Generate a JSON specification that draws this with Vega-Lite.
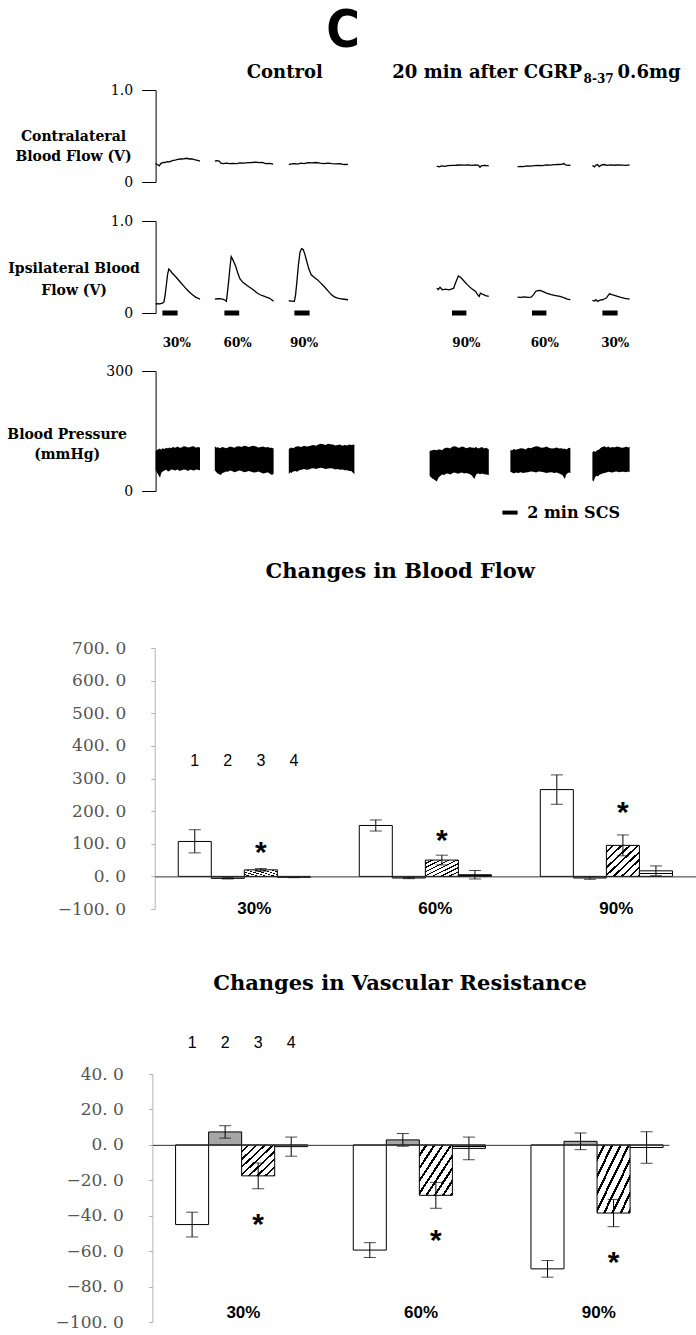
{
  "$schema": "https://vega.github.io/schema/vega-lite/v6.json",
  "padding": 0,
  "spacing": 0,
  "bounds": "flush",
  "config": {"view": {"stroke": null}, "axis": {"grid": false, "labelOverlap": false}},
  "datasets": {
    "contra": [
      {"seg":1,"t":19.45,"v":0.2},{"seg":1,"t":19.7,"v":0.19},{"seg":1,"t":19.9,"v":0.175},{"seg":1,"t":20.1,"v":0.2},{"seg":1,"t":20.3,"v":0.21},{"seg":1,"t":20.6,"v":0.212},{"seg":1,"t":20.9,"v":0.222},{"seg":1,"t":21.2,"v":0.218},{"seg":1,"t":21.6,"v":0.235},{"seg":1,"t":21.9,"v":0.238},{"seg":1,"t":22.2,"v":0.245},{"seg":1,"t":22.6,"v":0.25},{"seg":1,"t":23.0,"v":0.252},{"seg":1,"t":23.3,"v":0.258},{"seg":1,"t":23.7,"v":0.25},{"seg":1,"t":24.0,"v":0.252},{"seg":1,"t":24.3,"v":0.243},{"seg":1,"t":24.7,"v":0.236},{"seg":1,"t":25.0,"v":0.228},
      {"seg":2,"t":26.85,"v":0.228},{"seg":2,"t":27.1,"v":0.232},{"seg":2,"t":27.4,"v":0.226},{"seg":2,"t":27.6,"v":0.205},{"seg":2,"t":27.9,"v":0.2},{"seg":2,"t":28.3,"v":0.205},{"seg":2,"t":28.7,"v":0.2},{"seg":2,"t":29.1,"v":0.203},{"seg":2,"t":29.6,"v":0.2},{"seg":2,"t":30.0,"v":0.207},{"seg":2,"t":30.5,"v":0.205},{"seg":2,"t":31.0,"v":0.21},{"seg":2,"t":31.5,"v":0.212},{"seg":2,"t":32.0,"v":0.217},{"seg":2,"t":32.4,"v":0.21},{"seg":2,"t":32.8,"v":0.213},{"seg":2,"t":33.2,"v":0.2},{"seg":2,"t":33.7,"v":0.203},{"seg":2,"t":34.15,"v":0.195},
      {"seg":3,"t":36.1,"v":0.19},{"seg":3,"t":36.4,"v":0.196},{"seg":3,"t":36.8,"v":0.2},{"seg":3,"t":37.2,"v":0.195},{"seg":3,"t":37.6,"v":0.205},{"seg":3,"t":38.0,"v":0.2},{"seg":3,"t":38.5,"v":0.21},{"seg":3,"t":39.0,"v":0.207},{"seg":3,"t":39.5,"v":0.212},{"seg":3,"t":40.0,"v":0.205},{"seg":3,"t":40.5,"v":0.2},{"seg":3,"t":41.0,"v":0.205},{"seg":3,"t":41.5,"v":0.2},{"seg":3,"t":42.0,"v":0.197},{"seg":3,"t":42.5,"v":0.2},{"seg":3,"t":43.0,"v":0.19},{"seg":3,"t":43.5,"v":0.192},
      {"seg":4,"t":54.6,"v":0.172},{"seg":4,"t":54.9,"v":0.165},{"seg":4,"t":55.2,"v":0.175},{"seg":4,"t":55.6,"v":0.17},{"seg":4,"t":56.0,"v":0.178},{"seg":4,"t":56.5,"v":0.18},{"seg":4,"t":57.0,"v":0.182},{"seg":4,"t":57.5,"v":0.185},{"seg":4,"t":58.0,"v":0.184},{"seg":4,"t":58.5,"v":0.186},{"seg":4,"t":59.0,"v":0.18},{"seg":4,"t":59.5,"v":0.185},{"seg":4,"t":59.8,"v":0.18},{"seg":4,"t":60.0,"v":0.16},{"seg":4,"t":60.2,"v":0.178},{"seg":4,"t":60.6,"v":0.18},{"seg":4,"t":61.1,"v":0.175},
      {"seg":5,"t":64.7,"v":0.165},{"seg":5,"t":65.0,"v":0.17},{"seg":5,"t":65.4,"v":0.168},{"seg":5,"t":65.9,"v":0.175},{"seg":5,"t":66.3,"v":0.172},{"seg":5,"t":66.8,"v":0.177},{"seg":5,"t":67.3,"v":0.18},{"seg":5,"t":67.8,"v":0.178},{"seg":5,"t":68.3,"v":0.185},{"seg":5,"t":68.8,"v":0.183},{"seg":5,"t":69.3,"v":0.188},{"seg":5,"t":69.8,"v":0.19},{"seg":5,"t":70.2,"v":0.192},{"seg":5,"t":70.5,"v":0.2},{"seg":5,"t":70.7,"v":0.185},{"seg":5,"t":71.0,"v":0.18},{"seg":5,"t":71.3,"v":0.182},
      {"seg":6,"t":74.05,"v":0.18},{"seg":6,"t":74.3,"v":0.165},{"seg":6,"t":74.5,"v":0.185},{"seg":6,"t":74.7,"v":0.19},{"seg":6,"t":74.9,"v":0.168},{"seg":6,"t":75.2,"v":0.185},{"seg":6,"t":75.5,"v":0.19},{"seg":6,"t":75.9,"v":0.18},{"seg":6,"t":76.3,"v":0.186},{"seg":6,"t":76.8,"v":0.182},{"seg":6,"t":77.3,"v":0.186},{"seg":6,"t":77.8,"v":0.183},{"seg":6,"t":78.3,"v":0.18},{"seg":6,"t":78.7,"v":0.185}
    ],
    "ipsi": [
      {"seg":1,"t":19.45,"v":0.1},{"seg":1,"t":19.7,"v":0.102},{"seg":1,"t":20.0,"v":0.1},{"seg":1,"t":20.3,"v":0.108},{"seg":1,"t":20.5,"v":0.12},{"seg":1,"t":20.65,"v":0.2},{"seg":1,"t":20.8,"v":0.31},{"seg":1,"t":20.95,"v":0.42},{"seg":1,"t":21.1,"v":0.478},{"seg":1,"t":21.3,"v":0.46},{"seg":1,"t":21.5,"v":0.435},{"seg":1,"t":21.8,"v":0.41},{"seg":1,"t":22.1,"v":0.38},{"seg":1,"t":22.5,"v":0.34},{"seg":1,"t":22.9,"v":0.3},{"seg":1,"t":23.3,"v":0.26},{"seg":1,"t":23.7,"v":0.225},{"seg":1,"t":24.1,"v":0.195},{"seg":1,"t":24.5,"v":0.17},{"seg":1,"t":24.8,"v":0.158},{"seg":1,"t":25.0,"v":0.152},
      {"seg":2,"t":26.85,"v":0.15},{"seg":2,"t":27.2,"v":0.155},{"seg":2,"t":27.5,"v":0.157},{"seg":2,"t":27.8,"v":0.15},{"seg":2,"t":28.05,"v":0.144},{"seg":2,"t":28.3,"v":0.128},{"seg":2,"t":28.45,"v":0.24},{"seg":2,"t":28.6,"v":0.36},{"seg":2,"t":28.75,"v":0.5},{"seg":2,"t":28.9,"v":0.612},{"seg":2,"t":29.1,"v":0.58},{"seg":2,"t":29.45,"v":0.51},{"seg":2,"t":29.7,"v":0.44},{"seg":2,"t":30.0,"v":0.37},{"seg":2,"t":30.4,"v":0.33},{"seg":2,"t":30.8,"v":0.305},{"seg":2,"t":31.2,"v":0.28},{"seg":2,"t":31.7,"v":0.25},{"seg":2,"t":32.1,"v":0.22},{"seg":2,"t":32.5,"v":0.198},{"seg":2,"t":32.9,"v":0.185},{"seg":2,"t":33.3,"v":0.172},{"seg":2,"t":33.7,"v":0.16},{"seg":2,"t":34.2,"v":0.128},
      {"seg":3,"t":36.1,"v":0.133},{"seg":3,"t":36.4,"v":0.13},{"seg":3,"t":36.8,"v":0.128},{"seg":3,"t":36.95,"v":0.2},{"seg":3,"t":37.1,"v":0.33},{"seg":3,"t":37.3,"v":0.52},{"seg":3,"t":37.5,"v":0.66},{"seg":3,"t":37.7,"v":0.7},{"seg":3,"t":37.9,"v":0.69},{"seg":3,"t":38.1,"v":0.64},{"seg":3,"t":38.3,"v":0.576},{"seg":3,"t":38.6,"v":0.48},{"seg":3,"t":38.9,"v":0.415},{"seg":3,"t":39.3,"v":0.385},{"seg":3,"t":39.7,"v":0.36},{"seg":3,"t":40.1,"v":0.325},{"seg":3,"t":40.55,"v":0.285},{"seg":3,"t":41.0,"v":0.24},{"seg":3,"t":41.4,"v":0.2},{"seg":3,"t":41.8,"v":0.175},{"seg":3,"t":42.2,"v":0.162},{"seg":3,"t":42.8,"v":0.152},{"seg":3,"t":43.5,"v":0.144},
      {"seg":4,"t":54.6,"v":0.27},{"seg":4,"t":54.8,"v":0.255},{"seg":4,"t":55.0,"v":0.28},{"seg":4,"t":55.3,"v":0.252},{"seg":4,"t":55.7,"v":0.26},{"seg":4,"t":56.1,"v":0.252},{"seg":4,"t":56.4,"v":0.26},{"seg":4,"t":56.7,"v":0.27},{"seg":4,"t":57.0,"v":0.34},{"seg":4,"t":57.3,"v":0.403},{"seg":4,"t":57.6,"v":0.385},{"seg":4,"t":58.05,"v":0.342},{"seg":4,"t":58.5,"v":0.3},{"seg":4,"t":58.9,"v":0.27},{"seg":4,"t":59.2,"v":0.25},{"seg":4,"t":59.45,"v":0.234},{"seg":4,"t":59.7,"v":0.2},{"seg":4,"t":59.9,"v":0.18},{"seg":4,"t":60.05,"v":0.215},{"seg":4,"t":60.3,"v":0.205},{"seg":4,"t":60.7,"v":0.19},{"seg":4,"t":61.1,"v":0.18},
      {"seg":5,"t":64.7,"v":0.173},{"seg":5,"t":65.1,"v":0.17},{"seg":5,"t":65.55,"v":0.175},{"seg":5,"t":66.0,"v":0.17},{"seg":5,"t":66.4,"v":0.173},{"seg":5,"t":66.7,"v":0.2},{"seg":5,"t":66.95,"v":0.234},{"seg":5,"t":67.2,"v":0.242},{"seg":5,"t":67.5,"v":0.245},{"seg":5,"t":67.9,"v":0.232},{"seg":5,"t":68.3,"v":0.216},{"seg":5,"t":68.9,"v":0.2},{"seg":5,"t":69.45,"v":0.19},{"seg":5,"t":70.0,"v":0.18},{"seg":5,"t":70.55,"v":0.165},{"seg":5,"t":70.9,"v":0.15},{"seg":5,"t":71.3,"v":0.145},
      {"seg":6,"t":74.05,"v":0.137},{"seg":6,"t":74.3,"v":0.13},{"seg":6,"t":74.5,"v":0.145},{"seg":6,"t":74.7,"v":0.126},{"seg":6,"t":75.0,"v":0.14},{"seg":6,"t":75.3,"v":0.144},{"seg":6,"t":75.6,"v":0.155},{"seg":6,"t":75.8,"v":0.162},{"seg":6,"t":76.0,"v":0.19},{"seg":6,"t":76.2,"v":0.209},{"seg":6,"t":76.5,"v":0.2},{"seg":6,"t":76.9,"v":0.19},{"seg":6,"t":77.5,"v":0.173},{"seg":6,"t":78.1,"v":0.16},{"seg":6,"t":78.7,"v":0.151}
    ],
    "stim": [
      {"t0":20.3,"t1":22.2,"lt":22.1,"lab":"30%"},
      {"t0":28.05,"t1":29.9,"lt":29.7,"lab":"60%"},
      {"t0":36.8,"t1":38.7,"lt":38.0,"lab":"90%"},
      {"t0":56.5,"t1":58.3,"lt":58.3,"lab":"90%"},
      {"t0":66.5,"t1":68.3,"lt":68.1,"lab":"60%"},
      {"t0":75.3,"t1":77.2,"lt":76.9,"lab":"30%"}
    ],
    "bp": [
      {"seg":1,"t":19.45,"hi":100,"lo":52},{"seg":1,"t":19.7,"hi":104,"lo":44},{"seg":1,"t":20.0,"hi":106,"lo":33},{"seg":1,"t":20.15,"hi":103,"lo":45},{"seg":1,"t":20.3,"hi":107,"lo":48},{"seg":1,"t":20.55,"hi":105,"lo":51},{"seg":1,"t":20.8,"hi":108,"lo":53},{"seg":1,"t":21.0,"hi":106,"lo":49},{"seg":1,"t":21.2,"hi":109,"lo":50},{"seg":1,"t":21.4,"hi":107,"lo":54},{"seg":1,"t":21.6,"hi":110,"lo":53},{"seg":1,"t":21.9,"hi":108,"lo":51},{"seg":1,"t":22.2,"hi":111,"lo":54},{"seg":1,"t":22.45,"hi":108,"lo":50},{"seg":1,"t":22.7,"hi":109,"lo":52},{"seg":1,"t":22.95,"hi":112,"lo":54},{"seg":1,"t":23.2,"hi":111,"lo":53},{"seg":1,"t":23.5,"hi":109,"lo":50},{"seg":1,"t":23.8,"hi":110,"lo":54},{"seg":1,"t":24.05,"hi":112,"lo":52},{"seg":1,"t":24.3,"hi":111,"lo":51},{"seg":1,"t":24.5,"hi":108,"lo":54},{"seg":1,"t":24.7,"hi":110,"lo":53},{"seg":1,"t":25.0,"hi":109,"lo":52},
      {"seg":2,"t":26.85,"hi":112,"lo":52},{"seg":2,"t":27.05,"hi":108,"lo":47},{"seg":2,"t":27.2,"hi":110,"lo":44},{"seg":2,"t":27.4,"hi":107,"lo":42},{"seg":2,"t":27.6,"hi":108,"lo":40},{"seg":2,"t":27.8,"hi":110,"lo":45},{"seg":2,"t":28.0,"hi":109,"lo":46},{"seg":2,"t":28.25,"hi":107,"lo":49},{"seg":2,"t":28.5,"hi":109,"lo":48},{"seg":2,"t":28.75,"hi":111,"lo":51},{"seg":2,"t":29.0,"hi":110,"lo":50},{"seg":2,"t":29.3,"hi":108,"lo":47},{"seg":2,"t":29.6,"hi":111,"lo":49},{"seg":2,"t":29.9,"hi":112,"lo":51},{"seg":2,"t":30.2,"hi":110,"lo":50},{"seg":2,"t":30.5,"hi":113,"lo":47},{"seg":2,"t":30.8,"hi":112,"lo":48},{"seg":2,"t":31.1,"hi":110,"lo":50},{"seg":2,"t":31.4,"hi":112,"lo":48},{"seg":2,"t":31.7,"hi":113,"lo":46},{"seg":2,"t":32.0,"hi":111,"lo":47},{"seg":2,"t":32.3,"hi":109,"lo":49},{"seg":2,"t":32.6,"hi":110,"lo":46},{"seg":2,"t":32.9,"hi":111,"lo":44},{"seg":2,"t":33.2,"hi":109,"lo":45},{"seg":2,"t":33.45,"hi":110,"lo":47},{"seg":2,"t":33.7,"hi":108,"lo":44},{"seg":2,"t":34.0,"hi":108,"lo":40},{"seg":2,"t":34.2,"hi":106,"lo":43},
      {"seg":3,"t":36.1,"hi":105,"lo":42},{"seg":3,"t":36.25,"hi":107,"lo":47},{"seg":3,"t":36.4,"hi":109,"lo":45},{"seg":3,"t":36.65,"hi":107,"lo":49},{"seg":3,"t":36.9,"hi":110,"lo":50},{"seg":3,"t":37.15,"hi":112,"lo":48},{"seg":3,"t":37.4,"hi":111,"lo":52},{"seg":3,"t":37.7,"hi":110,"lo":53},{"seg":3,"t":38.0,"hi":113,"lo":55},{"seg":3,"t":38.3,"hi":111,"lo":53},{"seg":3,"t":38.6,"hi":112,"lo":54},{"seg":3,"t":38.9,"hi":114,"lo":56},{"seg":3,"t":39.2,"hi":115,"lo":57},{"seg":3,"t":39.5,"hi":113,"lo":55},{"seg":3,"t":39.8,"hi":116,"lo":57},{"seg":3,"t":40.1,"hi":118,"lo":58},{"seg":3,"t":40.4,"hi":117,"lo":57},{"seg":3,"t":40.7,"hi":115,"lo":55},{"seg":3,"t":41.0,"hi":118,"lo":56},{"seg":3,"t":41.3,"hi":117,"lo":57},{"seg":3,"t":41.6,"hi":116,"lo":56},{"seg":3,"t":41.9,"hi":114,"lo":54},{"seg":3,"t":42.2,"hi":115,"lo":55},{"seg":3,"t":42.5,"hi":116,"lo":53},{"seg":3,"t":42.8,"hi":113,"lo":54},{"seg":3,"t":43.1,"hi":115,"lo":52},{"seg":3,"t":43.4,"hi":114,"lo":52},{"seg":3,"t":43.65,"hi":116,"lo":50},{"seg":3,"t":43.9,"hi":115,"lo":50},{"seg":3,"t":44.3,"hi":116,"lo":42},
      {"seg":4,"t":53.7,"hi":100,"lo":38},{"seg":4,"t":54.0,"hi":102,"lo":32},{"seg":4,"t":54.3,"hi":103,"lo":28},{"seg":4,"t":54.6,"hi":102,"lo":24},{"seg":4,"t":54.8,"hi":104,"lo":33},{"seg":4,"t":55.0,"hi":104,"lo":37},{"seg":4,"t":55.25,"hi":102,"lo":41},{"seg":4,"t":55.5,"hi":106,"lo":40},{"seg":4,"t":55.75,"hi":108,"lo":43},{"seg":4,"t":56.0,"hi":108,"lo":44},{"seg":4,"t":56.25,"hi":106,"lo":41},{"seg":4,"t":56.5,"hi":110,"lo":44},{"seg":4,"t":56.75,"hi":112,"lo":46},{"seg":4,"t":57.0,"hi":111,"lo":45},{"seg":4,"t":57.25,"hi":108,"lo":43},{"seg":4,"t":57.5,"hi":109,"lo":45},{"seg":4,"t":57.75,"hi":111,"lo":46},{"seg":4,"t":58.0,"hi":110,"lo":44},{"seg":4,"t":58.25,"hi":107,"lo":45},{"seg":4,"t":58.5,"hi":108,"lo":44},{"seg":4,"t":58.75,"hi":110,"lo":42},{"seg":4,"t":59.0,"hi":108,"lo":38},{"seg":4,"t":59.15,"hi":109,"lo":34},{"seg":4,"t":59.3,"hi":107,"lo":30},{"seg":4,"t":59.45,"hi":110,"lo":38},{"seg":4,"t":59.6,"hi":109,"lo":43},{"seg":4,"t":59.8,"hi":106,"lo":44},{"seg":4,"t":60.0,"hi":108,"lo":42},{"seg":4,"t":60.25,"hi":110,"lo":44},{"seg":4,"t":60.5,"hi":106,"lo":42},{"seg":4,"t":60.8,"hi":108,"lo":41},{"seg":4,"t":61.1,"hi":104,"lo":40},
      {"seg":5,"t":63.8,"hi":103,"lo":48},{"seg":5,"t":64.0,"hi":101,"lo":46},{"seg":5,"t":64.2,"hi":105,"lo":44},{"seg":5,"t":64.5,"hi":103,"lo":46},{"seg":5,"t":64.8,"hi":105,"lo":45},{"seg":5,"t":65.1,"hi":107,"lo":47},{"seg":5,"t":65.4,"hi":106,"lo":45},{"seg":5,"t":65.7,"hi":104,"lo":46},{"seg":5,"t":66.0,"hi":108,"lo":47},{"seg":5,"t":66.35,"hi":107,"lo":49},{"seg":5,"t":66.7,"hi":110,"lo":48},{"seg":5,"t":67.0,"hi":112,"lo":46},{"seg":5,"t":67.3,"hi":111,"lo":49},{"seg":5,"t":67.65,"hi":108,"lo":48},{"seg":5,"t":68.0,"hi":109,"lo":47},{"seg":5,"t":68.3,"hi":111,"lo":45},{"seg":5,"t":68.6,"hi":108,"lo":46},{"seg":5,"t":68.95,"hi":106,"lo":47},{"seg":5,"t":69.3,"hi":107,"lo":45},{"seg":5,"t":69.6,"hi":109,"lo":46},{"seg":5,"t":69.9,"hi":106,"lo":44},{"seg":5,"t":70.1,"hi":107,"lo":42},{"seg":5,"t":70.3,"hi":106,"lo":40},{"seg":5,"t":70.45,"hi":105,"lo":35},{"seg":5,"t":70.6,"hi":106,"lo":30},{"seg":5,"t":70.75,"hi":104,"lo":40},{"seg":5,"t":70.9,"hi":105,"lo":44},{"seg":5,"t":71.1,"hi":108,"lo":46},{"seg":5,"t":71.3,"hi":107,"lo":45},
      {"seg":6,"t":74.05,"hi":97,"lo":27},{"seg":6,"t":74.2,"hi":100,"lo":24},{"seg":6,"t":74.3,"hi":99,"lo":30},{"seg":6,"t":74.45,"hi":98,"lo":36},{"seg":6,"t":74.6,"hi":101,"lo":38},{"seg":6,"t":74.75,"hi":103,"lo":36},{"seg":6,"t":74.9,"hi":104,"lo":40},{"seg":6,"t":75.1,"hi":108,"lo":42},{"seg":6,"t":75.3,"hi":110,"lo":44},{"seg":6,"t":75.55,"hi":112,"lo":45},{"seg":6,"t":75.8,"hi":109,"lo":46},{"seg":6,"t":76.05,"hi":111,"lo":48},{"seg":6,"t":76.3,"hi":108,"lo":47},{"seg":6,"t":76.55,"hi":110,"lo":46},{"seg":6,"t":76.8,"hi":109,"lo":48},{"seg":6,"t":77.1,"hi":111,"lo":49},{"seg":6,"t":77.4,"hi":110,"lo":47},{"seg":6,"t":77.7,"hi":108,"lo":48},{"seg":6,"t":78.0,"hi":109,"lo":48},{"seg":6,"t":78.3,"hi":111,"lo":47},{"seg":6,"t":78.5,"hi":109,"lo":49},{"seg":6,"t":78.7,"hi":110,"lo":47}
    ],
    "bf": [
      {"pct":"30%","s":1,"v":107,"lo":72,"hi":143},
      {"pct":"30%","s":2,"v":-6,"lo":-8,"hi":-4},
      {"pct":"30%","s":3,"v":20,"lo":16,"hi":24},
      {"pct":"30%","s":4,"v":-3,"lo":-4,"hi":-2},
      {"pct":"60%","s":1,"v":156,"lo":139,"hi":173},
      {"pct":"60%","s":2,"v":-5,"lo":-7,"hi":-3},
      {"pct":"60%","s":3,"v":50,"lo":35,"hi":65},
      {"pct":"60%","s":4,"v":5,"lo":-8,"hi":18},
      {"pct":"90%","s":1,"v":266,"lo":221,"hi":311},
      {"pct":"90%","s":2,"v":-5,"lo":-9,"hi":-1},
      {"pct":"90%","s":3,"v":95,"lo":63,"hi":127},
      {"pct":"90%","s":4,"v":17,"lo":2,"hi":32}
    ],
    "vr": [
      {"pct":"30%","s":1,"v":-45,"lo":-52,"hi":-38},
      {"pct":"30%","s":2,"v":7.3,"lo":3.8,"hi":10.8},
      {"pct":"30%","s":3,"v":-17.5,"lo":-24.8,"hi":-10.2},
      {"pct":"30%","s":4,"v":-1,"lo":-6.4,"hi":4.4},
      {"pct":"60%","s":1,"v":-59.4,"lo":-63.6,"hi":-55.2},
      {"pct":"60%","s":2,"v":2.8,"lo":-0.8,"hi":6.4},
      {"pct":"60%","s":3,"v":-28.5,"lo":-35.8,"hi":-21.2},
      {"pct":"60%","s":4,"v":-2,"lo":-8.4,"hi":4.4},
      {"pct":"90%","s":1,"v":-70,"lo":-74.7,"hi":-65.3},
      {"pct":"90%","s":2,"v":2,"lo":-2.7,"hi":6.7},
      {"pct":"90%","s":3,"v":-38.5,"lo":-46.2,"hi":-30.8},
      {"pct":"90%","s":4,"v":-1.5,"lo":-10.4,"hi":7.4}
    ],
    "bfstars": [{"pct":"30%","s":3,"y":96},{"pct":"60%","s":3,"y":133},{"pct":"90%","s":3,"y":219}],
    "vrstars": [{"pct":"30%","s":3,"y":-40.5},{"pct":"60%","s":3,"y":-49.9},{"pct":"90%","s":3,"y":-62.2}],
    "nums": [{"pct":"30%","s":1,"lab":"1"},{"pct":"30%","s":2,"lab":"2"},{"pct":"30%","s":3,"lab":"3"},{"pct":"30%","s":4,"lab":"4"}],
    "cats": [{"pct":"30%"},{"pct":"60%"},{"pct":"90%"}]
  },
  "vconcat": [
    {"width": 696, "height": 90, "data": {"values": [{}]}, "mark": "text", "encoding": {"text": {"value": ""}}},
    {
      "width": 696, "height": 92,
      "layer": [
        {"data": {"name": "contra"}, "mark": {"type": "line", "color": "black", "strokeWidth": 1.3},
         "encoding": {
           "x": {"field": "t", "type": "quantitative", "scale": {"domain": [0, 87], "nice": false, "zero": false}, "axis": null},
           "y": {"field": "v", "type": "quantitative", "scale": {"domain": [0, 1], "nice": false},
                 "axis": {"values": [0, 1], "tickCount": 20, "labelExpr": "datum.value == 0 ? '0' : format(datum.value, '.1f')", "offset": -155.6, "domainColor": "black", "tickColor": "black", "tickSize": 14, "labelPadding": 9, "labelFont": "DejaVu Serif", "labelFontSize": 14, "labelColor": "black", "labelFlush": false, "grid": false,
                          "title": ["Contralateral", "Blood Flow (V)"], "titleAngle": 0, "titleX": -82.6, "titleY": 46.7, "titleAlign": "center", "titleBaseline": "middle", "titleFont": "DejaVu Serif", "titleFontSize": 14, "titleFontWeight": "bold", "titleLineHeight": 20, "titleColor": "black"}},
           "detail": {"field": "seg"}}},
        {"data": {"values": [{"t": 42.875, "y": 1.633, "txt": "C"}]}, "mark": {"type": "text", "font": "DejaVu Sans Condensed, DejaVu Sans", "fontWeight": "bold", "fontSize": 51},
         "encoding": {"x": {"field": "t", "type": "quantitative"}, "y": {"field": "y", "type": "quantitative"}, "text": {"field": "txt"}}},
        {"data": {"values": [{"t": 35.6, "y": 1.187, "txt": "Control"}]}, "mark": {"type": "text", "font": "DejaVu Serif", "fontWeight": "bold", "fontSize": 18},
         "encoding": {"x": {"field": "t", "type": "quantitative"}, "y": {"field": "y", "type": "quantitative"}, "text": {"field": "txt"}}},
        {"data": {"values": [{"t": 72.75, "y": 1.187, "txt": "20 min after CGRP"}]}, "mark": {"type": "text", "align": "right", "font": "DejaVu Serif", "fontWeight": "bold", "fontSize": 18},
         "encoding": {"x": {"field": "t", "type": "quantitative"}, "y": {"field": "y", "type": "quantitative"}, "text": {"field": "txt"}}},
        {"data": {"values": [{"t": 72.95, "y": 1.12, "txt": "8-37"}]}, "mark": {"type": "text", "align": "left", "font": "DejaVu Serif", "fontWeight": "bold", "fontSize": 12},
         "encoding": {"x": {"field": "t", "type": "quantitative"}, "y": {"field": "y", "type": "quantitative"}, "text": {"field": "txt"}}},
        {"data": {"values": [{"t": 77.2, "y": 1.187, "txt": "0.6mg"}]}, "mark": {"type": "text", "align": "left", "font": "DejaVu Serif", "fontWeight": "bold", "fontSize": 18},
         "encoding": {"x": {"field": "t", "type": "quantitative"}, "y": {"field": "y", "type": "quantitative"}, "text": {"field": "txt"}}}
      ]
    },
    {"width": 696, "height": 39, "data": {"values": [{}]}, "mark": "text", "encoding": {"text": {"value": ""}}},
    {
      "width": 696, "height": 92,
      "layer": [
        {"data": {"name": "ipsi"}, "mark": {"type": "line", "color": "black", "strokeWidth": 1.3},
         "encoding": {
           "x": {"field": "t", "type": "quantitative", "scale": {"domain": [0, 87], "nice": false, "zero": false}, "axis": null},
           "y": {"field": "v", "type": "quantitative", "scale": {"domain": [0, 1], "nice": false},
                 "axis": {"values": [0, 1], "tickCount": 20, "labelExpr": "datum.value == 0 ? '0' : format(datum.value, '.1f')", "offset": -155.6, "domainColor": "black", "tickColor": "black", "tickSize": 14, "labelPadding": 9, "labelFont": "DejaVu Serif", "labelFontSize": 14, "labelColor": "black", "labelFlush": false, "grid": false,
                          "title": ["Ipsilateral Blood", "Flow (V)"], "titleAngle": 0, "titleX": -82, "titleY": 47.8, "titleAlign": "center", "titleBaseline": "middle", "titleFont": "DejaVu Serif", "titleFontSize": 14, "titleFontWeight": "bold", "titleLineHeight": 22, "titleColor": "black"}},
           "detail": {"field": "seg"}}},
        {"data": {"name": "stim"}, "mark": {"type": "rule", "color": "black", "strokeWidth": 5},
         "encoding": {"x": {"field": "t0", "type": "quantitative"}, "x2": {"field": "t1"}, "y": {"datum": 0}}},
        {"data": {"name": "stim"}, "mark": {"type": "text", "font": "DejaVu Serif", "fontWeight": "bold", "fontSize": 12},
         "encoding": {"x": {"field": "lt", "type": "quantitative"}, "y": {"datum": -0.33}, "text": {"field": "lab"}}}
      ]
    },
    {"width": 696, "height": 58, "data": {"values": [{}]}, "mark": "text", "encoding": {"text": {"value": ""}}},
    {
      "width": 696, "height": 120,
      "layer": [
        {"data": {"name": "bp"}, "mark": {"type": "area", "color": "black", "interpolate": "linear"},
         "encoding": {
           "x": {"field": "t", "type": "quantitative", "scale": {"domain": [0, 87], "nice": false, "zero": false}, "axis": null},
           "y": {"field": "hi", "type": "quantitative", "scale": {"domain": [0, 300], "nice": false},
                 "axis": {"values": [0, 300], "tickCount": 20, "offset": -155.6, "domainColor": "black", "tickColor": "black", "tickSize": 14, "labelPadding": 9, "labelFont": "DejaVu Serif", "labelFontSize": 14, "labelColor": "black", "labelFlush": false, "grid": false,
                          "title": ["Blood Pressure", "(mmHg)"], "titleAngle": 0, "titleX": -89, "titleY": 63, "titleAlign": "center", "titleBaseline": "middle", "titleFont": "DejaVu Serif", "titleFontSize": 14, "titleFontWeight": "bold", "titleLineHeight": 20, "titleColor": "black"}},
           "y2": {"field": "lo"},
           "detail": {"field": "seg"}}},
        {"data": {"values": [{"t0": 62.8, "t1": 64.7}]}, "mark": {"type": "rule", "color": "black", "strokeWidth": 4},
         "encoding": {"x": {"field": "t0", "type": "quantitative"}, "x2": {"field": "t1"}, "y": {"datum": -54}}},
        {"data": {"values": [{"t": 65.9, "txt": "2 min SCS"}]}, "mark": {"type": "text", "align": "left", "font": "DejaVu Serif", "fontWeight": "bold", "fontSize": 16},
         "encoding": {"x": {"field": "t", "type": "quantitative"}, "y": {"datum": -54}, "text": {"field": "txt"}}}
      ]
    },
    {"width": 696, "height": 157, "data": {"values": [{}]}, "mark": "text", "encoding": {"text": {"value": ""}}},
    {
      "width": 696, "height": 261,
      "layer": [
        {"data": {"name": "bf"}, "transform": [{"filter": "datum.s == 1"}], "mark": {"type": "bar", "fill": "white", "stroke": "black", "strokeWidth": 1},
         "encoding": {
           "x": {"field": "pct", "type": "nominal", "scale": {"domain": ["30%", "60%", "90%"], "range": [154.7, 696], "paddingInner": 0.27, "paddingOuter": 0.13, "align": 0.5},
                 "axis": {"orient": "bottom", "offset": -32.625, "ticks": false, "labels": false, "title": null, "domainColor": "#333", "domainWidth": 1, "zindex": 1}},
           "xOffset": {"field": "s", "type": "nominal", "scale": {"domain": [1, 2, 3, 4], "paddingInner": 0, "paddingOuter": 0}},
           "y": {"field": "v", "type": "quantitative", "scale": {"domain": [-100, 700], "nice": false},
                 "axis": {"values": [-100, 0, 100, 200, 300, 400, 500, 600, 700], "tickCount": 20, "labelExpr": "replace(format(datum.value, '.1f'), '.', '. ')", "offset": -154.7, "domainColor": "#b4b4b4", "tickColor": "#b4b4b4", "tickSize": 4, "labelPadding": 25, "labelFont": "DejaVu Serif", "labelFontSize": 17, "labelColor": "#555", "labelFlush": false, "title": null, "grid": false}}}},
        {"data": {"name": "bf"}, "transform": [{"filter": "datum.s == 2"}], "mark": {"type": "bar", "fill": "#a6a6a6", "stroke": "black", "strokeWidth": 1},
         "encoding": {"x": {"field": "pct", "type": "nominal"}, "xOffset": {"field": "s", "type": "nominal"}, "y": {"field": "v", "type": "quantitative"}}},
        {"data": {"name": "bf"}, "transform": [{"filter": "datum.s == 3"}],
         "mark": {"type": "bar", "stroke": "black", "strokeWidth": 1,
                  "fill": {"gradient": "linear", "x1": 0, "y1": 0, "x2": 1, "y2": 1, "stops": [
                    {"offset": 0, "color": "white"}, {"offset": 0.088, "color": "white"}, {"offset": 0.088, "color": "black"}, {"offset": 0.125, "color": "black"},
                    {"offset": 0.125, "color": "white"}, {"offset": 0.213, "color": "white"}, {"offset": 0.213, "color": "black"}, {"offset": 0.25, "color": "black"},
                    {"offset": 0.25, "color": "white"}, {"offset": 0.338, "color": "white"}, {"offset": 0.338, "color": "black"}, {"offset": 0.375, "color": "black"},
                    {"offset": 0.375, "color": "white"}, {"offset": 0.463, "color": "white"}, {"offset": 0.463, "color": "black"}, {"offset": 0.5, "color": "black"},
                    {"offset": 0.5, "color": "white"}, {"offset": 0.588, "color": "white"}, {"offset": 0.588, "color": "black"}, {"offset": 0.625, "color": "black"},
                    {"offset": 0.625, "color": "white"}, {"offset": 0.713, "color": "white"}, {"offset": 0.713, "color": "black"}, {"offset": 0.75, "color": "black"},
                    {"offset": 0.75, "color": "white"}, {"offset": 0.838, "color": "white"}, {"offset": 0.838, "color": "black"}, {"offset": 0.875, "color": "black"},
                    {"offset": 0.875, "color": "white"}, {"offset": 0.963, "color": "white"}, {"offset": 0.963, "color": "black"}, {"offset": 1, "color": "black"}]}},
         "encoding": {"x": {"field": "pct", "type": "nominal"}, "xOffset": {"field": "s", "type": "nominal"}, "y": {"field": "v", "type": "quantitative"}}},
        {"data": {"name": "bf"}, "transform": [{"filter": "datum.s == 4"}],
         "mark": {"type": "bar", "stroke": "black", "strokeWidth": 1,
                  "fill": {"gradient": "linear", "x1": 0, "y1": 0, "x2": 0, "y2": 1, "stops": [
                    {"offset": 0, "color": "white"}, {"offset": 0.38, "color": "white"}, {"offset": 0.38, "color": "black"}, {"offset": 0.6, "color": "black"}, {"offset": 0.6, "color": "white"}, {"offset": 1, "color": "white"}]}},
         "encoding": {"x": {"field": "pct", "type": "nominal"}, "xOffset": {"field": "s", "type": "nominal"}, "y": {"field": "v", "type": "quantitative"}}},
        {"data": {"name": "bf"}, "mark": {"type": "rule", "color": "black", "strokeWidth": 1},
         "encoding": {"x": {"field": "pct", "type": "nominal"}, "xOffset": {"field": "s", "type": "nominal"}, "y": {"field": "lo", "type": "quantitative"}, "y2": {"field": "hi"}}},
        {"data": {"name": "bf"}, "mark": {"type": "tick", "color": "black", "thickness": 1, "size": 12, "orient": "horizontal"},
         "encoding": {"x": {"field": "pct", "type": "nominal"}, "xOffset": {"field": "s", "type": "nominal"}, "y": {"field": "lo", "type": "quantitative"}}},
        {"data": {"name": "bf"}, "mark": {"type": "tick", "color": "black", "thickness": 1, "size": 12, "orient": "horizontal"},
         "encoding": {"x": {"field": "pct", "type": "nominal"}, "xOffset": {"field": "s", "type": "nominal"}, "y": {"field": "hi", "type": "quantitative"}}},
        {"data": {"name": "bfstars"}, "mark": {"type": "text", "font": "Liberation Sans", "fontWeight": "bold", "fontSize": 30, "dy": 8},
         "encoding": {"x": {"field": "pct", "type": "nominal"}, "xOffset": {"field": "s", "type": "nominal"}, "y": {"field": "y", "type": "quantitative"}, "text": {"value": "*"}}},
        {"data": {"name": "nums"}, "mark": {"type": "text", "font": "Liberation Sans", "fontSize": 16},
         "encoding": {"x": {"field": "pct", "type": "nominal"}, "xOffset": {"field": "s", "type": "nominal"}, "y": {"datum": 354}, "text": {"field": "lab"}}},
        {"data": {"name": "cats"}, "mark": {"type": "text", "font": "Liberation Sans", "fontWeight": "bold", "fontSize": 17, "dx": 10},
         "encoding": {"x": {"field": "pct", "type": "nominal"}, "y": {"datum": -101}, "text": {"field": "pct"}}},
        {"data": {"values": [{"pct": "60%", "txt": "Changes in Blood Flow"}]}, "mark": {"type": "text", "font": "DejaVu Serif", "fontWeight": "bold", "fontSize": 21},
         "encoding": {"x": {"field": "pct", "type": "nominal", "bandPosition": 0.31}, "y": {"datum": 932}, "text": {"field": "txt"}}}
      ]
    },
    {"width": 696, "height": 165, "data": {"values": [{}]}, "mark": "text", "encoding": {"text": {"value": ""}}},
    {
      "width": 696, "height": 248,
      "layer": [
        {"data": {"name": "vr"}, "transform": [{"filter": "datum.s == 1"}], "mark": {"type": "bar", "fill": "white", "stroke": "black", "strokeWidth": 1},
         "encoding": {
           "x": {"field": "pct", "type": "nominal", "scale": {"domain": ["30%", "60%", "90%"], "range": [152.4, 669], "paddingInner": 0.27, "paddingOuter": 0.0886, "align": 0.736},
                 "axis": {"orient": "bottom", "offset": -177.143, "ticks": false, "labels": false, "title": null, "domainColor": "#333", "domainWidth": 1, "zindex": 1}},
           "xOffset": {"field": "s", "type": "nominal", "scale": {"domain": [1, 2, 3, 4], "paddingInner": 0, "paddingOuter": 0}},
           "y": {"field": "v", "type": "quantitative", "scale": {"domain": [-100, 40], "nice": false},
                 "axis": {"values": [-100, -80, -60, -40, -20, 0, 20, 40], "tickCount": 20, "labelExpr": "replace(format(datum.value, '.1f'), '.', '. ')", "offset": -152.4, "domainColor": "#b4b4b4", "tickColor": "#b4b4b4", "tickSize": 4, "labelPadding": 25, "labelFont": "DejaVu Serif", "labelFontSize": 17, "labelColor": "#555", "labelFlush": false, "title": null, "grid": false}}}},
        {"data": {"name": "vr"}, "transform": [{"filter": "datum.s == 2"}], "mark": {"type": "bar", "fill": "#a6a6a6", "stroke": "black", "strokeWidth": 1},
         "encoding": {"x": {"field": "pct", "type": "nominal"}, "xOffset": {"field": "s", "type": "nominal"}, "y": {"field": "v", "type": "quantitative"}}},
        {"data": {"name": "vr"}, "transform": [{"filter": "datum.s == 3"}],
         "mark": {"type": "bar", "stroke": "black", "strokeWidth": 1,
                  "fill": {"gradient": "linear", "x1": 0, "y1": 0, "x2": 1, "y2": 1, "stops": [
                    {"offset": 0, "color": "white"}, {"offset": 0.088, "color": "white"}, {"offset": 0.088, "color": "black"}, {"offset": 0.125, "color": "black"},
                    {"offset": 0.125, "color": "white"}, {"offset": 0.213, "color": "white"}, {"offset": 0.213, "color": "black"}, {"offset": 0.25, "color": "black"},
                    {"offset": 0.25, "color": "white"}, {"offset": 0.338, "color": "white"}, {"offset": 0.338, "color": "black"}, {"offset": 0.375, "color": "black"},
                    {"offset": 0.375, "color": "white"}, {"offset": 0.463, "color": "white"}, {"offset": 0.463, "color": "black"}, {"offset": 0.5, "color": "black"},
                    {"offset": 0.5, "color": "white"}, {"offset": 0.588, "color": "white"}, {"offset": 0.588, "color": "black"}, {"offset": 0.625, "color": "black"},
                    {"offset": 0.625, "color": "white"}, {"offset": 0.713, "color": "white"}, {"offset": 0.713, "color": "black"}, {"offset": 0.75, "color": "black"},
                    {"offset": 0.75, "color": "white"}, {"offset": 0.838, "color": "white"}, {"offset": 0.838, "color": "black"}, {"offset": 0.875, "color": "black"},
                    {"offset": 0.875, "color": "white"}, {"offset": 0.963, "color": "white"}, {"offset": 0.963, "color": "black"}, {"offset": 1, "color": "black"}]}},
         "encoding": {"x": {"field": "pct", "type": "nominal"}, "xOffset": {"field": "s", "type": "nominal"}, "y": {"field": "v", "type": "quantitative"}}},
        {"data": {"name": "vr"}, "transform": [{"filter": "datum.s == 4"}],
         "mark": {"type": "bar", "stroke": "black", "strokeWidth": 1,
                  "fill": {"gradient": "linear", "x1": 0, "y1": 0, "x2": 0, "y2": 1, "stops": [
                    {"offset": 0, "color": "white"}, {"offset": 0.38, "color": "white"}, {"offset": 0.38, "color": "black"}, {"offset": 0.6, "color": "black"}, {"offset": 0.6, "color": "white"}, {"offset": 1, "color": "white"}]}},
         "encoding": {"x": {"field": "pct", "type": "nominal"}, "xOffset": {"field": "s", "type": "nominal"}, "y": {"field": "v", "type": "quantitative"}}},
        {"data": {"name": "vr"}, "mark": {"type": "rule", "color": "black", "strokeWidth": 1},
         "encoding": {"x": {"field": "pct", "type": "nominal"}, "xOffset": {"field": "s", "type": "nominal"}, "y": {"field": "lo", "type": "quantitative"}, "y2": {"field": "hi"}}},
        {"data": {"name": "vr"}, "mark": {"type": "tick", "color": "black", "thickness": 1, "size": 12, "orient": "horizontal"},
         "encoding": {"x": {"field": "pct", "type": "nominal"}, "xOffset": {"field": "s", "type": "nominal"}, "y": {"field": "lo", "type": "quantitative"}}},
        {"data": {"name": "vr"}, "mark": {"type": "tick", "color": "black", "thickness": 1, "size": 12, "orient": "horizontal"},
         "encoding": {"x": {"field": "pct", "type": "nominal"}, "xOffset": {"field": "s", "type": "nominal"}, "y": {"field": "hi", "type": "quantitative"}}},
        {"data": {"name": "vrstars"}, "mark": {"type": "text", "font": "Liberation Sans", "fontWeight": "bold", "fontSize": 30, "dy": 8},
         "encoding": {"x": {"field": "pct", "type": "nominal"}, "xOffset": {"field": "s", "type": "nominal"}, "y": {"field": "y", "type": "quantitative"}, "text": {"value": "*"}}},
        {"data": {"name": "nums"}, "mark": {"type": "text", "font": "Liberation Sans", "fontSize": 16},
         "encoding": {"x": {"field": "pct", "type": "nominal"}, "xOffset": {"field": "s", "type": "nominal"}, "y": {"datum": 57.7}, "text": {"field": "lab"}}},
        {"data": {"name": "cats"}, "mark": {"type": "text", "font": "Liberation Sans", "fontWeight": "bold", "fontSize": 17, "dx": 3},
         "encoding": {"x": {"field": "pct", "type": "nominal"}, "y": {"datum": -94.8}, "text": {"field": "pct"}}},
        {"data": {"values": [{"pct": "60%", "txt": "Changes in Vascular Resistance"}]}, "mark": {"type": "text", "font": "DejaVu Serif", "fontWeight": "bold", "fontSize": 21},
         "encoding": {"x": {"field": "pct", "type": "nominal", "bandPosition": 0.36}, "y": {"datum": 90.7}, "text": {"field": "txt"}}}
      ]
    }
  ]
}
